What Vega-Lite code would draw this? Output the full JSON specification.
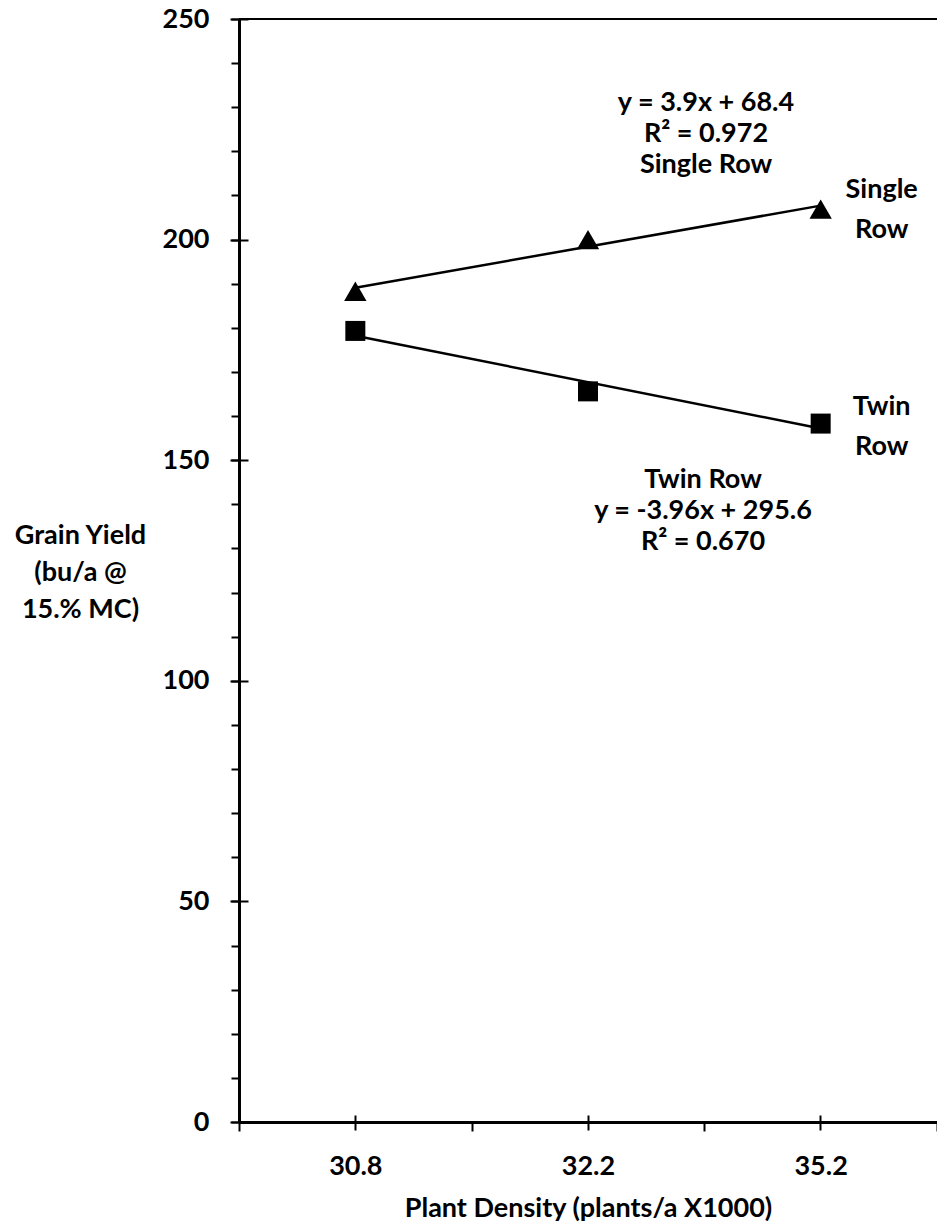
{
  "$schema": "https://vega.github.io/schema/vega-lite/v6.json",
  "autosize": "none",
  "padding": {"left": 239, "top": 19, "right": 0, "bottom": 109},
  "width": 698,
  "height": 1103,
  "background": "white",
  "config": {
    "font": "Lato",
    "view": {"stroke": null},
    "axis": {"labelFont": "Lato", "labelFontWeight": "bold", "labelFontSize": 27, "labelColor": "black", "titleFont": "Lato", "titleFontWeight": "bold", "titleFontSize": 27, "titleColor": "black", "domainColor": "black", "tickColor": "black", "grid": false},
    "text": {"font": "Lato", "fontWeight": "bold", "fontSize": 27, "color": "black"}
  },
  "datasets": {
    "points": [
      {"density": "30.8", "yield": 188.3, "system": "Single Row"},
      {"density": "32.2", "yield": 200.0, "system": "Single Row"},
      {"density": "35.2", "yield": 206.9, "system": "Single Row"},
      {"density": "30.8", "yield": 179.3, "system": "Twin Row"},
      {"density": "32.2", "yield": 165.6, "system": "Twin Row"},
      {"density": "35.2", "yield": 158.3, "system": "Twin Row"}
    ],
    "trends": [
      {"density": "30.8", "trend": 189.1, "system": "Single Row"},
      {"density": "35.2", "trend": 207.7, "system": "Single Row"},
      {"density": "30.8", "trend": 178.2, "system": "Twin Row"},
      {"density": "35.2", "trend": 157.2, "system": "Twin Row"}
    ],
    "anchor": [{}]
  },
  "resolve": {"axis": {"x": "independent", "y": "independent"}},
  "layer": [
    {
      "data": {"name": "trends"},
      "mark": {"type": "line", "color": "black", "strokeWidth": 2.5},
      "encoding": {
        "x": {
          "field": "density", "type": "nominal", "bandPosition": 0.5,
          "scale": {"type": "band", "domain": ["30.8", "32.2", "35.2"], "paddingInner": 0, "paddingOuter": 0},
          "axis": {"orient": "bottom", "title": "Plant Density (plants/a X1000)", "labelAngle": 0, "tickBand": "extent", "tickSize": 9, "tickWidth": 2, "domainWidth": 3, "labelPadding": 22, "titlePadding": 16}
        },
        "y": {
          "field": "trend", "type": "quantitative",
          "scale": {"domain": [0, 250], "nice": false, "zero": true},
          "axis": {
            "orient": "left",
            "values": [0, 10, 20, 30, 40, 50, 60, 70, 80, 90, 100, 110, 120, 130, 140, 150, 160, 170, 180, 190, 200, 210, 220, 230, 240, 250],
            "labelExpr": "datum.value % 50 === 0 ? datum.label : ''",
            "tickSize": 8, "tickWidth": 2, "domainWidth": 3, "labelPadding": 22,
            "title": ["Grain Yield", "(bu/a @", "15.% MC)"],
            "titleAngle": 0, "titleAlign": "center", "titleBaseline": "middle", "titleX": -159, "titleY": 516, "titleLineHeight": 37
          }
        },
        "detail": {"field": "system"}
      }
    },
    {
      "data": {"name": "points"},
      "mark": {"type": "point", "filled": true, "opacity": 1, "color": "black"},
      "encoding": {
        "x": {"field": "density", "type": "nominal", "bandPosition": 0.5,
          "axis": {"orient": "bottom", "offset": -7, "tickSize": 15, "tickWidth": 2, "labels": false, "domain": false, "title": null, "tickBand": "center"}},
        "y": {"field": "yield", "type": "quantitative",
          "axis": {"orient": "left", "offset": -9, "tickSize": 18, "tickWidth": 2, "values": [0, 50, 100, 150, 200, 250], "labels": false, "domain": false, "title": null}},
        "shape": {"field": "system", "type": "nominal", "scale": {"domain": ["Single Row", "Twin Row"], "range": ["triangle-up", "square"]}, "legend": null},
        "size": {"field": "system", "type": "nominal", "scale": {"domain": ["Single Row", "Twin Row"], "range": [500, 400]}, "legend": null}
      }
    },
    {
      "data": {"name": "anchor"},
      "mark": {"type": "rule", "color": "black", "strokeWidth": 2},
      "encoding": {"y": {"datum": 250, "axis": null}}
    },
    {
      "data": {"name": "anchor"},
      "mark": {"type": "text", "align": "center", "baseline": "middle", "dx": 118, "lineHeight": 31},
      "encoding": {"x": {"datum": "32.2", "bandPosition": 0.5, "axis": null}, "y": {"datum": 231.0, "axis": null}, "text": {"value": ["y = 3.9x + 68.4", "R² = 0.972", "Single Row"]}}
    },
    {
      "data": {"name": "anchor"},
      "mark": {"type": "text", "align": "center", "baseline": "middle", "dx": 115, "lineHeight": 31},
      "encoding": {"x": {"datum": "32.2", "bandPosition": 0.5, "axis": null}, "y": {"datum": 145.5, "axis": null}, "text": {"value": ["Twin Row", "y = -3.96x + 295.6", "R² = 0.670"]}}
    },
    {
      "data": {"name": "anchor"},
      "mark": {"type": "text", "align": "center", "baseline": "middle", "dx": 61, "lineHeight": 40},
      "encoding": {"x": {"datum": "35.2", "bandPosition": 0.5, "axis": null}, "y": {"datum": 211.2, "axis": null}, "text": {"value": ["Single", "Row"]}}
    },
    {
      "data": {"name": "anchor"},
      "mark": {"type": "text", "align": "center", "baseline": "middle", "dx": 61, "lineHeight": 40},
      "encoding": {"x": {"datum": "35.2", "bandPosition": 0.5, "axis": null}, "y": {"datum": 162.1, "axis": null}, "text": {"value": ["Twin", "Row"]}}
    }
  ]
}
